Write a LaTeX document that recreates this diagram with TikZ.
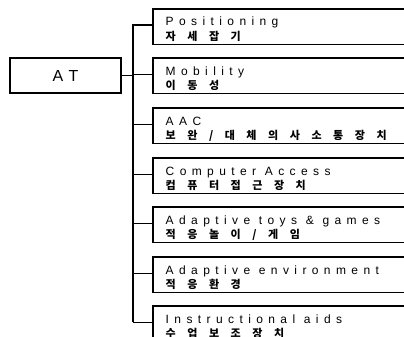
\documentclass[tikz,border=0pt]{standalone}
\usepackage{fontspec}
\newfontfamily\enfont{Liberation Sans}[LetterSpace=45]
\newfontfamily\atfont{Liberation Sans}[LetterSpace=40]
\newfontfamily\kofont{Noto Sans CJK KR}[LetterSpace=105]
\begin{document}
\begin{tikzpicture}[x=1pt,y=-1pt,
  line width=1.4pt,
  atbox/.style={draw, line width=2.8pt, minimum width=111pt, minimum height=35pt, inner sep=0pt, font=\atfont\fontsize{16}{16}\selectfont},
  catbox/.style={anchor=north west, minimum width=270pt, minimum height=34pt, inner sep=0pt},
  entext/.style={anchor=base west, inner sep=0pt, font=\enfont\fontsize{12}{12}\selectfont},
  kotext/.style={anchor=base west, inner sep=0pt, font=\kofont\bfseries\fontsize{11}{11}\selectfont}]
\useasboundingbox (0,0) rectangle (404,337);
\node[atbox] (at) at (65.5,75.5) {AT};
\coordinate (trunktop) at (133,24);
\coordinate (trunkbot) at (133,322);
\foreach \i/\t/\en/\ko in {1/9/Positioning/{자세잡기},
  2/58/Mobility/{이동성},
  3/108/AAC/{보완/대체의사소통장치},
  4/158/Computer Access/{컴퓨터접근장치},
  5/207/Adaptive toys \& games/{적응놀이/게임},
  6/257/Adaptive environment/{적응환경},
  7/306/Instructional aids/{수업보조장치}}{
  \node[catbox] (c\i) at (153,\t) {};
  \draw (c\i.north east) -- (c\i.north west) -- (c\i.south west) -- (c\i.south east);
  \node[entext] (e\i) at ([xshift=12pt,yshift=-17pt]c\i.north west) {\en};
  \node[kotext] (k\i) at ([xshift=12pt,yshift=3.5pt]c\i.south west) {\ko};
  \draw ([yshift=1.5pt]c\i.west) -- ([yshift=1.5pt]c\i.west -| trunktop);
}
\draw (trunktop) -- (trunkbot);
\draw (at.east) -- (at.east -| trunktop);
\end{tikzpicture}
\end{document}
